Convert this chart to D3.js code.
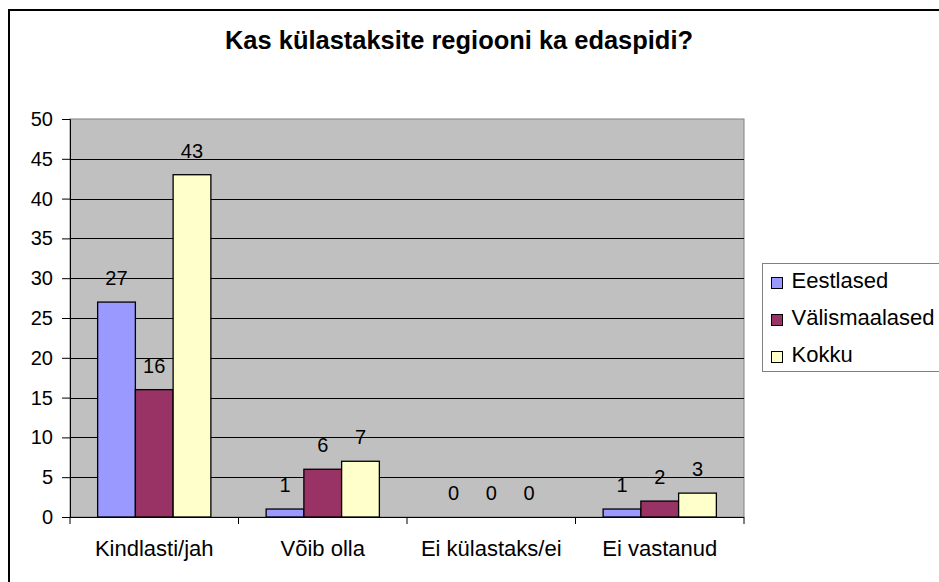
<!DOCTYPE html>
<html lang="et">
<head>
  <meta charset="utf-8">
  <title>Kas külastaksite regiooni ka edaspidi?</title>
  <script src="https://d3js.org/d3.v7.min.js"></script>
  <style>
    body { margin: 0; background: #fff; }
    text { font-family: "Liberation Sans", Arial, sans-serif; fill: #000; }
  </style>
</head>
<body>
<script>
  var categories = ["Kindlasti/jah", "Võib olla", "Ei külastaks/ei", "Ei vastanud"];
  var seriesNames = ["Eestlased", "Välismaalased", "Kokku"];
  var eestlased = [27, 1, 0, 1];
  var valismaalased = [16, 6, 0, 2];
  var kokku = [43, 7, 0, 3];
  var yTicks = [0, 5, 10, 15, 20, 25, 30, 35, 40, 45, 50];
  var colors = ["#9999ff", "#993366", "#ffffcc"];

  var series = [eestlased, valismaalased, kokku];

  var W = 939, H = 582;
  var plot = { left: 70, right: 744, top: 119, bottom: 517 };

  var svg = d3.select("body").append("svg")
    .attr("width", W).attr("height", H);

  // outer frame (runs off right/bottom edge like the original)
  svg.append("rect")
    .attr("x", 9).attr("y", 10)
    .attr("width", W + 20).attr("height", H + 20)
    .attr("fill", "#fff").attr("stroke", "#000").attr("stroke-width", 2);

  svg.append("text")
    .attr("x", 225).attr("y", 49)
    .attr("textLength", 468).attr("lengthAdjust", "spacingAndGlyphs")
    .style("font-size", "25px").style("font-weight", "bold")
    .text("Kas külastaksite regiooni ka edaspidi?");

  var x = d3.scaleBand().domain(categories)
    .range([plot.left, plot.right]).paddingInner(0.328).paddingOuter(0.164);
  var xs = d3.scaleBand().domain(d3.range(seriesNames.length))
    .range([0, x.bandwidth()]);
  var y = d3.scaleLinear().domain([0, 50]).range([plot.bottom, plot.top]);

  svg.append("rect")
    .attr("x", plot.left).attr("y", plot.top)
    .attr("width", plot.right - plot.left).attr("height", plot.bottom - plot.top)
    .attr("fill", "#c0c0c0").attr("stroke", "#808080");

  svg.append("g").selectAll("line")
    .data(yTicks.filter(function (d) { return d > 0 && d < 50; }))
    .join("line")
    .attr("x1", plot.left).attr("x2", plot.right)
    .attr("y1", function (d) { return Math.round(y(d)) + 0.5; })
    .attr("y2", function (d) { return Math.round(y(d)) + 0.5; })
    .attr("stroke", "#000").attr("stroke-width", 1);

  var groups = svg.append("g").selectAll("g")
    .data(categories).join("g")
    .attr("transform", function (d) { return "translate(" + x(d) + ",0)"; });

  groups.each(function (c, ci) {
    var g = d3.select(this);
    series.forEach(function (s, si) {
      var v = s[ci];
      if (v > 0) {
        g.append("rect")
          .attr("x", xs(si)).attr("y", y(v))
          .attr("width", xs.bandwidth()).attr("height", y(0) - y(v))
          .attr("fill", colors[si]).attr("stroke", "#000").attr("stroke-width", 1.3);
      }
      g.append("text")
        .attr("x", xs(si) + xs.bandwidth() / 2)
        .attr("y", y(v) - 17)
        .attr("text-anchor", "middle")
        .style("font-size", "20px")
        .text(v);
    });
  });

  // y axis
  var yAxis = d3.axisLeft(y).tickValues(yTicks).tickSize(8).tickPadding(9);
  var ya = svg.append("g").attr("transform", "translate(" + plot.left + ",0)").call(yAxis);
  ya.select(".domain").attr("stroke", "#000");
  ya.selectAll(".tick line").attr("stroke", "#000");
  ya.selectAll("text").style("font-size", "20px")
    .style("font-family", '"Liberation Sans", Arial, sans-serif');

  // x axis
  svg.append("line")
    .attr("x1", plot.left).attr("x2", plot.right)
    .attr("y1", plot.bottom + 0.5).attr("y2", plot.bottom + 0.5)
    .attr("stroke", "#000");
  svg.append("g").selectAll("line")
    .data(d3.range(categories.length + 1)).join("line")
    .attr("x1", function (i) { return plot.left + i * (plot.right - plot.left) / categories.length; })
    .attr("x2", function (i) { return plot.left + i * (plot.right - plot.left) / categories.length; })
    .attr("y1", plot.bottom).attr("y2", plot.bottom + 7)
    .attr("stroke", "#000");
  svg.append("g").selectAll("text")
    .data(categories).join("text")
    .attr("x", function (d) { return x(d) + x.bandwidth() / 2; })
    .attr("y", 556)
    .attr("text-anchor", "middle")
    .style("font-size", "22px")
    .text(function (d) { return d; });

  // legend
  var lg = svg.append("g");
  lg.append("rect")
    .attr("x", 762.5).attr("y", 263.5).attr("width", 200).attr("height", 108)
    .attr("fill", "#fff").attr("stroke", "#808080");
  var rows = lg.selectAll("g").data(seriesNames).join("g")
    .attr("transform", function (d, i) { return "translate(771.5," + (277.5 + i * 37) + ")"; });
  rows.append("rect")
    .attr("width", 11).attr("height", 11)
    .attr("fill", function (d, i) { return colors[i]; })
    .attr("stroke", "#000");
  rows.append("text")
    .attr("x", 20).attr("y", 10.5)
    .style("font-size", "22px")
    .text(function (d) { return d; });
</script>
</body>
</html>
